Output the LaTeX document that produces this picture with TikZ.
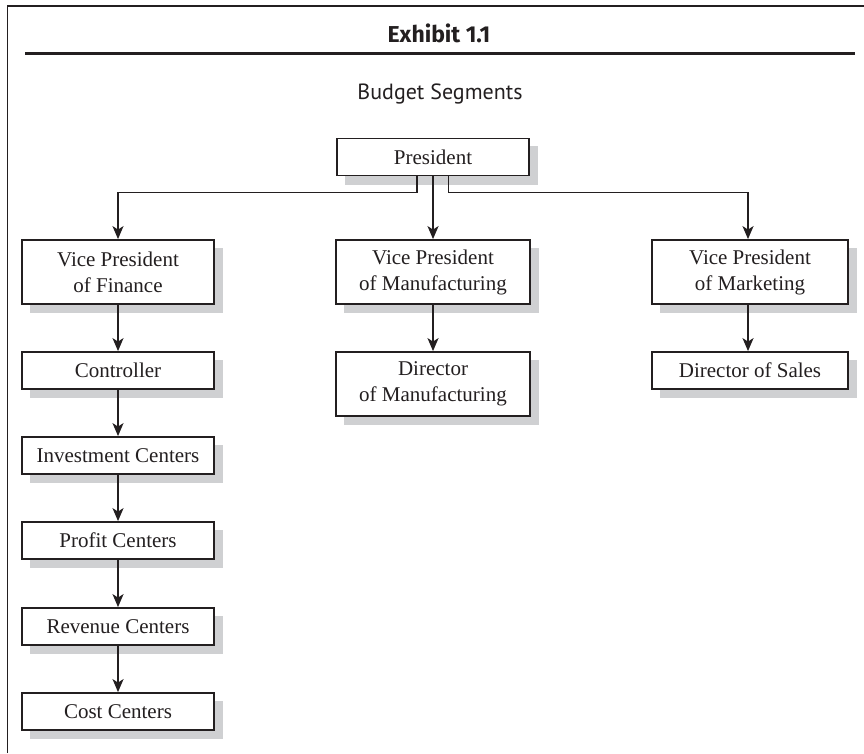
\documentclass[tikz,border=0pt]{standalone}
\usepackage{fontspec}
\setmainfont{Liberation Serif}
\newfontfamily\titlefont{Fira Sans}
\newfontfamily\subfont{PT Sans}
\usetikzlibrary{arrows.meta,backgrounds}
\definecolor{ink}{HTML}{231F20}
\definecolor{shade}{HTML}{CFD0D2}
\begin{document}
\begin{tikzpicture}[x=1pt,y=-1pt,
  orgbox/.style={draw=ink, line width=1.8pt, fill=white, text=ink,
    minimum width=192pt, inner sep=0pt, align=center,
    font=\fontsize{21}{26}\selectfont},
  onebox/.style={orgbox, minimum height=37pt},
  twobox/.style={orgbox, minimum height=64pt},
  shadowfill/.style={fill=shade},
  link/.style={draw=ink, line width=1.8pt, -{Stealth[length=13pt,width=11pt,inset=3.5pt]}},
  framel/.style={draw=ink, line width=1.4pt}
]
\useasboundingbox (0,0) rectangle (864,753);
% frame
\coordinate (fbl) at (7.5,753);
\coordinate (ftl) at (7.5,6);
\coordinate (ftr) at (864,6);
\draw[framel] (fbl) -- (ftl) -- (ftr);
\coordinate (rl) at (25,53);
\coordinate (rr) at (855,53);
\draw[draw=ink, line width=3pt] (rl) -- (rr);
% titles
\node[text=ink, font=\titlefont\bfseries\fontsize{23}{26}\selectfont] (title) at (439,33) {Exhibit 1.1};
\node[text=ink, font=\subfont\fontsize{22}{26}\selectfont] (sub) at (440,94) {Budget Segments};
% boxes
\node[onebox] (pres) at (433,157) {President};
\node[twobox] (vpf) at (118,272) {Vice President\\of Finance};
\node[onebox] (ctrl) at (118,370.5) {Controller};
\node[onebox] (inv) at (118,455.5) {Investment Centers};
\node[onebox] (prof) at (118,540.5) {Profit Centers};
\node[onebox] (rev) at (118,626.5) {Revenue Centers};
\node[onebox] (cost) at (118,711.5) {Cost Centers};
\node[twobox, minimum width=194pt] (vpm) at (433,272) {Vice President\\of Manufacturing};
\node[twobox, minimum width=194pt] (dirm) at (433,384) {Director\\of Manufacturing};
\node[twobox, minimum width=196pt] (vpk) at (750,272) {Vice President\\of Marketing};
\node[onebox, minimum width=196pt] (dirs) at (750,370.5) {Director of Sales};
% shadows
\begin{scope}[on background layer]
\fill[shadowfill] ([shift={(8.5,8.5)}]pres.north west) rectangle ([shift={(8.5,8.5)}]pres.south east);
\fill[shadowfill] ([shift={(8.5,8.5)}]vpf.north west) rectangle ([shift={(8.5,8.5)}]vpf.south east);
\fill[shadowfill] ([shift={(8.5,8.5)}]ctrl.north west) rectangle ([shift={(8.5,8.5)}]ctrl.south east);
\fill[shadowfill] ([shift={(8.5,8.5)}]inv.north west) rectangle ([shift={(8.5,8.5)}]inv.south east);
\fill[shadowfill] ([shift={(8.5,8.5)}]prof.north west) rectangle ([shift={(8.5,8.5)}]prof.south east);
\fill[shadowfill] ([shift={(8.5,8.5)}]rev.north west) rectangle ([shift={(8.5,8.5)}]rev.south east);
\fill[shadowfill] ([shift={(8.5,8.5)}]cost.north west) rectangle ([shift={(8.5,8.5)}]cost.south east);
\fill[shadowfill] ([shift={(8.5,8.5)}]vpm.north west) rectangle ([shift={(8.5,8.5)}]vpm.south east);
\fill[shadowfill] ([shift={(8.5,8.5)}]dirm.north west) rectangle ([shift={(8.5,8.5)}]dirm.south east);
\fill[shadowfill] ([shift={(8.5,8.5)}]vpk.north west) rectangle ([shift={(8.5,8.5)}]vpk.south east);
\fill[shadowfill] ([shift={(8.5,8.5)}]dirs.north west) rectangle ([shift={(8.5,8.5)}]dirs.south east);
\end{scope}
% connectors
\draw[link] ([xshift=-16pt]pres.south) -- ++(0,16) -| (vpf.north);
\draw[link] (pres.south) -- (vpm.north);
\draw[link] ([xshift=15.5pt]pres.south) -- ++(0,16) -| ([xshift=-2pt]vpk.north);
\draw[link] (vpf) -- (ctrl);
\draw[link] (ctrl) -- (inv);
\draw[link] (inv) -- (prof);
\draw[link] (prof) -- (rev);
\draw[link] (rev) -- (cost);
\draw[link] (vpm) -- (dirm);
\draw[link] ([xshift=-2pt]vpk.south) -- ([xshift=-2pt]dirs.north);
\end{tikzpicture}
\end{document}
